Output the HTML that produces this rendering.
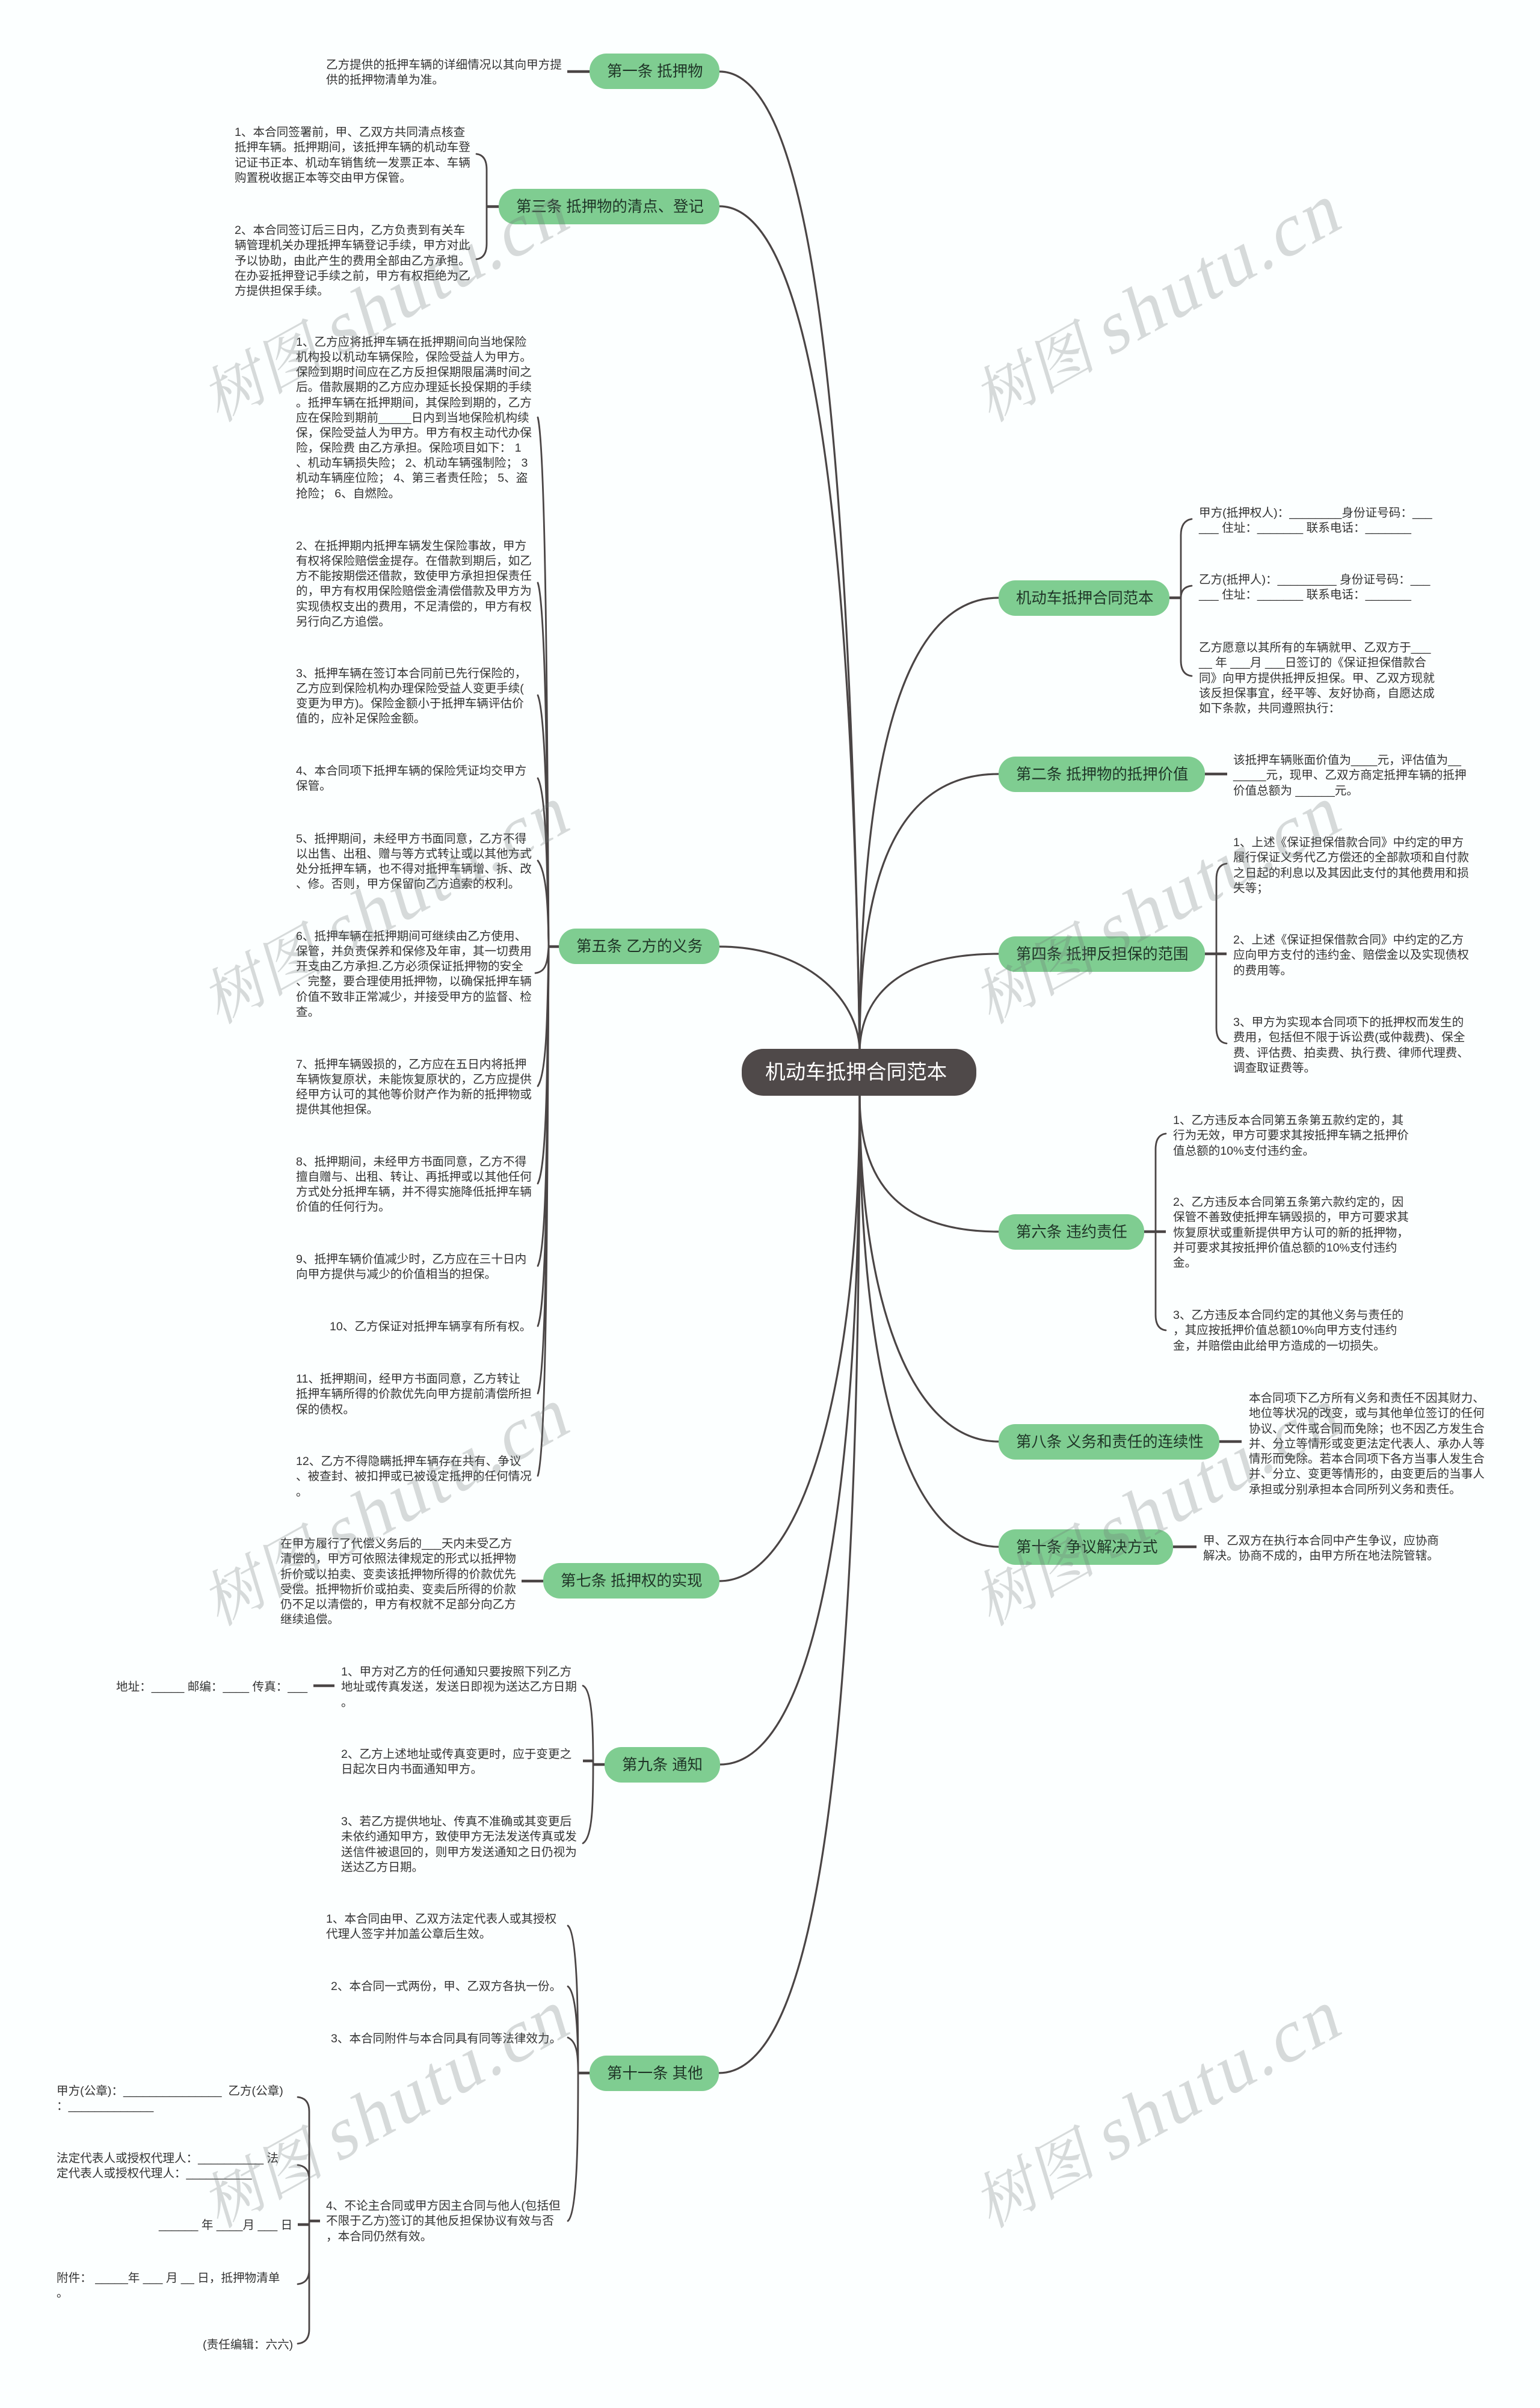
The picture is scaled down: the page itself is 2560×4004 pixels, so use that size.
<!DOCTYPE html>
<html lang="zh-CN"><head><meta charset="utf-8"><title>机动车抵押合同范本</title>
<style>
html,body{margin:0;padding:0;background:#fcffff}
#p{position:relative;width:2560px;height:4004px;overflow:hidden;background:#fcffff;font-family:"Liberation Sans","Noto Sans CJK SC",sans-serif}
svg{position:absolute;left:0;top:0}
.t{position:absolute;font-size:19.6px;line-height:25.3px;white-space:pre;color:#333}
.n{position:absolute;box-sizing:border-box;height:59px;line-height:60px;padding-left:29px;background:#7fcd91;border-radius:28px;font-size:25.4px;color:#1f3527;white-space:pre}
.r{position:absolute;left:1233px;top:1744px;width:390px;height:78px;line-height:79px;padding-left:39px;box-sizing:border-box;background:#4f4949;border-radius:36px;color:#fff;font-size:33.6px;white-space:pre}
.w{font-family:"Liberation Serif","Noto Serif CJK SC",serif;font-size:122px;letter-spacing:5px;fill:rgba(110,120,120,.27)}
.w .c{font-family:"Noto Serif CJK SC","Liberation Serif",serif;font-size:102px;letter-spacing:0}
</style></head><body><div id="p">
<svg width="2560" height="4004" viewBox="0 0 2560 4004" fill="none" stroke="#4a4545" stroke-linecap="round">
<g stroke-width="3.2">
<path d="M1196 119C1340 119 1410 600 1429 1744"/>
<path d="M1196 343C1340 343 1415 800 1429 1744"/>
<path d="M1660 994C1490 994 1430 1300 1429 1744"/>
<path d="M1660 1287C1470 1287 1429 1500 1429 1744"/>
<path d="M1660 1586C1490 1586 1433 1660 1429 1744"/>
<path d="M1196 1574C1340 1574 1425 1660 1429 1744"/>
<path d="M1197 2934C1350 2934 1429 2520 1429 1822"/>
<path d="M1195 3447C1360 3447 1429 2900 1429 1822"/>
<path d="M1196 2629C1340 2629 1429 2280 1429 1822"/>
<path d="M1660 2048C1480 2048 1429 1950 1429 1822"/>
<path d="M1660 2397C1510 2397 1429 2150 1429 1822"/>
<path d="M1660 2572C1510 2572 1429 2300 1429 1822"/>
</g>
<g stroke-width="4.5" stroke-linecap="butt">
<path d="M943 119H980M1944 994H1963M2003 1287H2040M2003 1586H2039M1902 2048H1938M2027 2397H2064M1950 2572H1989M912 1574H929M809 343.5H829M867 2629H903M985 2934H1005M961 3447H980M521 2803H556M514 3693H532M495 3699H514M969 2928H985"/>
</g>
<g stroke-width="2.8">
<path d="M809 343V282Q809 258 792 256M809 343V405Q809 429 792 431"/>
<path d="M1963 994V890Q1963 866 1981 863M1963 994Q1963 976 1981 974M1963 994V1098Q1963 1122 1981 1124"/>
<path d="M2022 1586V1462Q2022 1438 2039 1436M2022 1586V1709Q2022 1733 2039 1735"/>
<path d="M1921 2048V1911Q1921 1887 1938 1885M1921 2048V2186Q1921 2210 1938 2212"/>
<path d="M912 1574C910 1250 908 750 894 694"/>
<path d="M912 1574C910 1350 908 1010 894 969"/>
<path d="M912 1574C910 1400 908 1190 894 1156"/>
<path d="M912 1574C910 1450 908 1320 894 1294"/>
<path d="M912 1574C911 1500 908 1450 894 1431"/>
<path d="M912 1574C910 1600 908 1616 890 1618"/>
<path d="M912 1574C910 1700 908 1785 894 1806"/>
<path d="M912 1574C910 1800 908 1940 894 1968"/>
<path d="M912 1574C910 1900 908 2075 894 2105"/>
<path d="M912 1574C910 1950 908 2170 894 2205"/>
<path d="M912 1574C910 2000 908 2280 894 2317"/>
<path d="M912 1574C910 2050 908 2410 894 2454"/>
<path d="M986 2934C986 2880 985 2810 969 2803M986 2934C986 3000 985 3055 969 3065"/>
<path d="M961 3447C961 3350 960 3215 944 3202M961 3447C961 3400 960 3315 944 3303M961 3447C961 3420 960 3395 944 3388M961 3447C961 3550 960 3680 944 3693"/>
<path d="M514 3693V3511Q514 3489 495 3487M514 3693V3624Q514 3602 495 3600M514 3693V3774Q514 3796 495 3798M514 3693V3873Q514 3895 495 3897"/>
</g>
</svg>

<div class="r">机动车抵押合同范本</div>
<div class="n" style="left:980px;top:89px;width:216px">第一条 抵押物</div>
<div class="n" style="left:829px;top:314px;width:367px">第三条 抵押物的清点、登记</div>
<div class="n" style="left:929px;top:1544px;width:267px">第五条 乙方的义务</div>
<div class="n" style="left:903px;top:2599px;width:293px">第七条 抵押权的实现</div>
<div class="n" style="left:1005px;top:2905px;width:192px">第九条 通知</div>
<div class="n" style="left:980px;top:3418px;width:215px">第十一条 其他</div>
<div class="n" style="left:1660px;top:965px;width:284px">机动车抵押合同范本</div>
<div class="n" style="left:1660px;top:1258px;width:343px">第二条 抵押物的抵押价值</div>
<div class="n" style="left:1660px;top:1557px;width:343px">第四条 抵押反担保的范围</div>
<div class="n" style="left:1660px;top:2019px;width:242px">第六条 违约责任</div>
<div class="n" style="left:1660px;top:2368px;width:367px">第八条 义务和责任的连续性</div>
<div class="n" style="left:1660px;top:2543px;width:290px">第十条 争议解决方式</div>

<div class="t" style="left:542px;top:96px">乙方提供的抵押车辆的详细情况以其向甲方提
供的抵押物清单为准。</div>
<div class="t" style="left:390px;top:208px">1、本合同签署前，甲、乙双方共同清点核查
抵押车辆。抵押期间，该抵押车辆的机动车登
记证书正本、机动车销售统一发票正本、车辆
购置税收据正本等交由甲方保管。</div>
<div class="t" style="left:390px;top:371px">2、本合同签订后三日内，乙方负责到有关车
辆管理机关办理抵押车辆登记手续，甲方对此
予以协助，由此产生的费用全部由乙方承担。
在办妥抵押登记手续之前，甲方有权拒绝为乙
方提供担保手续。</div>

<div class="t" style="left:492px;top:557px;line-height:25.15px">1、乙方应将抵押车辆在抵押期间向当地保险
机构投以机动车辆保险，保险受益人为甲方。
保险到期时间应在乙方反担保期限届满时间之
后。借款展期的乙方应办理延长投保期的手续
。抵押车辆在抵押期间，其保险到期的，乙方
应在保险到期前_____日内到当地保险机构续
保，保险受益人为甲方。甲方有权主动代办保
险，保险费 由乙方承担。保险项目如下： 1
、机动车辆损失险； 2、机动车辆强制险； 3
机动车辆座位险； 4、第三者责任险； 5、盗
抢险； 6、自燃险。</div>
<div class="t" style="left:492px;top:896px;line-height:25.15px">2、在抵押期内抵押车辆发生保险事故，甲方
有权将保险赔偿金提存。在借款到期后，如乙
方不能按期偿还借款，致使甲方承担担保责任
的，甲方有权用保险赔偿金清偿借款及甲方为
实现债权支出的费用，不足清偿的，甲方有权
另行向乙方追偿。</div>
<div class="t" style="left:492px;top:1108px;line-height:25.15px">3、抵押车辆在签订本合同前已先行保险的，
乙方应到保险机构办理保险受益人变更手续(
变更为甲方)。保险金额小于抵押车辆评估价
值的，应补足保险金额。</div>
<div class="t" style="left:492px;top:1270px;line-height:25.15px">4、本合同项下抵押车辆的保险凭证均交甲方
保管。</div>
<div class="t" style="left:492px;top:1383px;line-height:25.15px">5、抵押期间，未经甲方书面同意，乙方不得
以出售、出租、赠与等方式转让或以其他方式
处分抵押车辆，也不得对抵押车辆增、拆、改
、修。否则，甲方保留向乙方追索的权利。</div>
<div class="t" style="left:492px;top:1545px;line-height:25.15px">6、抵押车辆在抵押期间可继续由乙方使用、
保管，并负责保养和保修及年审，其一切费用
开支由乙方承担.乙方必须保证抵押物的安全
、完整，要合理使用抵押物，以确保抵押车辆
价值不致非正常减少，并接受甲方的监督、检
查。</div>
<div class="t" style="left:492px;top:1758px;line-height:25.15px">7、抵押车辆毁损的，乙方应在五日内将抵押
车辆恢复原状，未能恢复原状的，乙方应提供
经甲方认可的其他等价财产作为新的抵押物或
提供其他担保。</div>
<div class="t" style="left:492px;top:1920px;line-height:25.15px">8、抵押期间，未经甲方书面同意，乙方不得
擅自赠与、出租、转让、再抵押或以其他任何
方式处分抵押车辆，并不得实施降低抵押车辆
价值的任何行为。</div>
<div class="t" style="left:492px;top:2082px;line-height:25.15px">9、抵押车辆价值减少时，乙方应在三十日内
向甲方提供与减少的价值相当的担保。</div>
<div class="t" style="left:548px;top:2194px">10、乙方保证对抵押车辆享有所有权。</div>
<div class="t" style="left:492px;top:2281px">11、抵押期间，经甲方书面同意，乙方转让
抵押车辆所得的价款优先向甲方提前清偿所担
保的债权。</div>
<div class="t" style="left:492px;top:2418px">12、乙方不得隐瞒抵押车辆存在共有、争议
、被查封、被扣押或已被设定抵押的任何情况
。</div>
<div class="t" style="left:466px;top:2555px">在甲方履行了代偿义务后的___天内未受乙方
清偿的，甲方可依照法律规定的形式以抵押物
折价或以拍卖、变卖该抵押物所得的价款优先
受偿。抵押物折价或拍卖、变卖后所得的价款
仍不足以清偿的，甲方有权就不足部分向乙方
继续追偿。</div>

<div class="t" style="left:193px;top:2793px">地址：_____ 邮编：____ 传真：___</div>
<div class="t" style="left:567px;top:2768px">1、甲方对乙方的任何通知只要按照下列乙方
地址或传真发送，发送日即视为送达乙方日期
。</div>
<div class="t" style="left:567px;top:2905px">2、乙方上述地址或传真变更时，应于变更之
日起次日内书面通知甲方。</div>
<div class="t" style="left:567px;top:3017px">3、若乙方提供地址、传真不准确或其变更后
未依约通知甲方，致使甲方无法发送传真或发
送信件被退回的，则甲方发送通知之日仍视为
送达乙方日期。</div>

<div class="t" style="left:542px;top:3179px">1、本合同由甲、乙双方法定代表人或其授权
代理人签字并加盖公章后生效。</div>
<div class="t" style="left:550px;top:3291px">2、本合同一式两份，甲、乙双方各执一份。</div>
<div class="t" style="left:550px;top:3378px">3、本合同附件与本合同具有同等法律效力。</div>
<div class="t" style="left:542px;top:3656px">4、不论主合同或甲方因主合同与他人(包括但
不限于乙方)签订的其他反担保协议有效与否
，本合同仍然有效。</div>

<div class="t" style="left:94px;top:3465px">甲方(公章)：_______________  乙方(公章)
：_____________</div>
<div class="t" style="left:94px;top:3577px">法定代表人或授权代理人：__________ 法
定代表人或授权代理人：__________</div>
<div class="t" style="left:264px;top:3688px">______ 年 ____月 ___ 日</div>
<div class="t" style="left:94px;top:3776px">附件： _____年 ___ 月 __ 日，抵押物清单
。</div>
<div class="t" style="left:337px;top:3887px">(责任编辑：六六)</div>

<div class="t" style="left:1993px;top:841px">甲方(抵押权人)：________身份证号码：___
___ 住址：_______ 联系电话：_______</div>
<div class="t" style="left:1993px;top:952px">乙方(抵押人)：_________ 身份证号码：___
___ 住址：_______ 联系电话：_______</div>
<div class="t" style="left:1993px;top:1065px">乙方愿意以其所有的车辆就甲、乙双方于___
__ 年 ___月 ___日签订的《保证担保借款合
同》向甲方提供抵押反担保。甲、乙双方现就
该反担保事宜，经平等、友好协商，自愿达成
如下条款，共同遵照执行：</div>
<div class="t" style="left:2050px;top:1252px">该抵押车辆账面价值为____元，评估值为__
_____元，现甲、乙双方商定抵押车辆的抵押
价值总额为 ______元。</div>
<div class="t" style="left:2050px;top:1389px">1、上述《保证担保借款合同》中约定的甲方
履行保证义务代乙方偿还的全部款项和自付款
之日起的利息以及其因此支付的其他费用和损
失等；</div>
<div class="t" style="left:2050px;top:1551px">2、上述《保证担保借款合同》中约定的乙方
应向甲方支付的违约金、赔偿金以及实现债权
的费用等。</div>
<div class="t" style="left:2050px;top:1688px">3、甲方为实现本合同项下的抵押权而发生的
费用，包括但不限于诉讼费(或仲裁费)、保全
费、评估费、拍卖费、执行费、律师代理费、
调查取证费等。</div>
<div class="t" style="left:1950px;top:1851px">1、乙方违反本合同第五条第五款约定的，其
行为无效，甲方可要求其按抵押车辆之抵押价
值总额的10%支付违约金。</div>
<div class="t" style="left:1950px;top:1987px">2、乙方违反本合同第五条第六款约定的，因
保管不善致使抵押车辆毁损的，甲方可要求其
恢复原状或重新提供甲方认可的新的抵押物，
并可要求其按抵押价值总额的10%支付违约
金。</div>
<div class="t" style="left:1950px;top:2175px">3、乙方违反本合同约定的其他义务与责任的
，其应按抵押价值总额10%向甲方支付违约
金，并赔偿由此给甲方造成的一切损失。</div>
<div class="t" style="left:2076px;top:2313px">本合同项下乙方所有义务和责任不因其财力、
地位等状况的改变，或与其他单位签订的任何
协议、文件或合同而免除；也不因乙方发生合
并、分立等情形或变更法定代表人、承办人等
情形而免除。若本合同项下各方当事人发生合
并、分立、变更等情形的，由变更后的当事人
承担或分别承担本合同所列义务和责任。</div>
<div class="t" style="left:2000px;top:2550px">甲、乙双方在执行本合同中产生争议，应协商
解决。协商不成的，由甲方所在地法院管辖。</div>

<svg width="2560" height="4004" viewBox="0 0 2560 4004">
<g class="w">
<text transform="translate(363 703) rotate(-29) skewX(-12)"><tspan class="c">树图</tspan><tspan x="226">shutu.cn</tspan></text>
<text transform="translate(1646 703) rotate(-29) skewX(-12)"><tspan class="c">树图</tspan><tspan x="226">shutu.cn</tspan></text>
<text transform="translate(363 1704) rotate(-29) skewX(-12)"><tspan class="c">树图</tspan><tspan x="226">shutu.cn</tspan></text>
<text transform="translate(1646 1704) rotate(-29) skewX(-12)"><tspan class="c">树图</tspan><tspan x="226">shutu.cn</tspan></text>
<text transform="translate(363 2705) rotate(-29) skewX(-12)"><tspan class="c">树图</tspan><tspan x="226">shutu.cn</tspan></text>
<text transform="translate(1646 2705) rotate(-29) skewX(-12)"><tspan class="c">树图</tspan><tspan x="226">shutu.cn</tspan></text>
<text transform="translate(363 3706) rotate(-29) skewX(-12)"><tspan class="c">树图</tspan><tspan x="226">shutu.cn</tspan></text>
<text transform="translate(1646 3706) rotate(-29) skewX(-12)"><tspan class="c">树图</tspan><tspan x="226">shutu.cn</tspan></text>
</g>
</svg>
</div></body></html>
